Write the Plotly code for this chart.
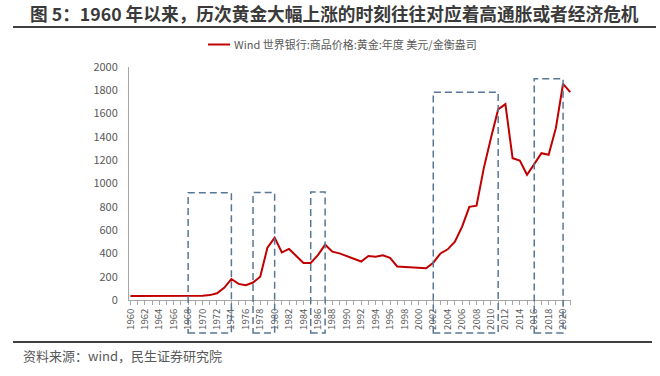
import plotly.graph_objects as go

years = list(range(1960, 2022))
gold_price = [
    35, 35, 35, 35, 35, 35, 35, 35,          # 1960-1967
    38, 39, 37, 42, 58, 105, 180, 138,       # 1968-1975
    127, 150, 200, 450, 535, 408, 438, 378,  # 1976-1983
    318, 318, 385, 475, 415, 400, 375, 355,  # 1984-1991
    330, 378, 372, 384, 362, 288, 284, 276,  # 1992-1999
    270, 272, 320, 400, 435, 500, 630, 800,  # 2000-2007
    810, 1130, 1390, 1636, 1681, 1217, 1197, 1075,  # 2008-2015
    1166, 1260, 1246, 1475, 1856, 1784,      # 2016-2021
]
tick_years = list(range(1960, 2021, 2))
tick_labels = [str(y) for y in tick_years]

# highlighted periods (start year, end year, box top value)
box_start = [1968, 1977, 1985, 2002, 2016]
box_end = [1974, 1980, 1987, 2011, 2020]
box_top = [920, 922, 928, 1784, 1900]

series_name = "Wind 世界银行:商品价格:黄金:年度 美元/金衡盎司"
title_text = "图 5：1960 年以来，历次黄金大幅上涨的时刻往往对应着高通胀或者经济危机"
source_text = "资料来源：wind，民生证券研究院"

W, H = 660, 376
ML, MR, MT, MB = 129, 89, 67, 76
PW, PH = W - ML - MR, H - MT - MB
XR = [1959.8, 2021.1]
YR = [0, 2000]

def px_x(px):
    return (px - ML) / PW

def px_y(py):
    return (H - MB - py) / PH

FONT = "Noto Sans CJK SC"
GRAY = "#595959"
RED = "#C00000"
BOX = "#587795"

fig = go.Figure()
fig.add_trace(go.Scatter(
    x=years, y=gold_price, mode="lines", name=series_name,
    line=dict(color=RED, width=2), showlegend=False,
))

shapes = []
for s, e, t in zip(box_start, box_end, box_top):
    shapes.append(dict(
        type="rect", xref="x", yref="paper",
        x0=s, x1=e, y0=px_y(333), y1=(t - YR[0]) / (YR[1] - YR[0]),
        line=dict(color=BOX, width=1.5, dash="7px,4px"),
        fillcolor="rgba(0,0,0,0)", layer="above",
    ))
# title rule and footer rule
shapes.append(dict(type="line", xref="paper", yref="paper",
                   x0=px_x(13), x1=px_x(656), y0=px_y(27), y1=px_y(27),
                   line=dict(color="#404040", width=2)))
shapes.append(dict(type="line", xref="paper", yref="paper",
                   x0=px_x(13), x1=px_x(652), y0=px_y(342), y1=px_y(342),
                   line=dict(color="#404040", width=2)))
# legend symbol
shapes.append(dict(type="line", xref="paper", yref="paper",
                   x0=px_x(208), x1=px_x(230), y0=px_y(44.5), y1=px_y(44.5),
                   line=dict(color=RED, width=2)))

annotations = [
    dict(text="<b>" + title_text + "</b>", xref="paper", yref="paper",
         x=px_x(334.5), y=px_y(13), xanchor="center", yanchor="middle",
         showarrow=False, font=dict(family=FONT, size=17.7, color="#3A3A3A")),
    dict(text=series_name, xref="paper", yref="paper",
         x=px_x(232), y=px_y(44.5), xanchor="left", yanchor="middle",
         showarrow=False, font=dict(family=FONT, size=11, color=GRAY)),
    dict(text=source_text, xref="paper", yref="paper",
         x=px_x(21), y=px_y(355), xanchor="left", yanchor="middle",
         showarrow=False, font=dict(family=FONT, size=13, color=GRAY)),
]

fig.update_layout(
    width=W, height=H,
    margin=dict(l=ML, r=MR, t=MT, b=MB),
    paper_bgcolor="white", plot_bgcolor="white",
    shapes=shapes, annotations=annotations,
    showlegend=False,
    xaxis=dict(
        range=XR, tickmode="array", tickvals=tick_years, ticktext=tick_labels,
        tickangle=-90, ticks="outside", ticklen=4, tickcolor="#A6A6A6",
        minor=dict(dtick=1, tick0=1960, ticks="outside", ticklen=4, tickcolor="#A6A6A6"),
        showline=True, linecolor="#A6A6A6", linewidth=1,
        showgrid=False, zeroline=False,
        tickfont=dict(family=FONT, size=9.5, color=GRAY),
    ),
    yaxis=dict(
        range=YR, dtick=200, ticks="", showline=True, linecolor="#A6A6A6", linewidth=1,
        showgrid=False, zeroline=False, ticklabelstandoff=8,
        tickfont=dict(family=FONT, size=11, color=GRAY),
    ),
)

fig.write_html("out.html", config={"displayModeBar": False},
               post_script="document.body.style.margin='0px';")
